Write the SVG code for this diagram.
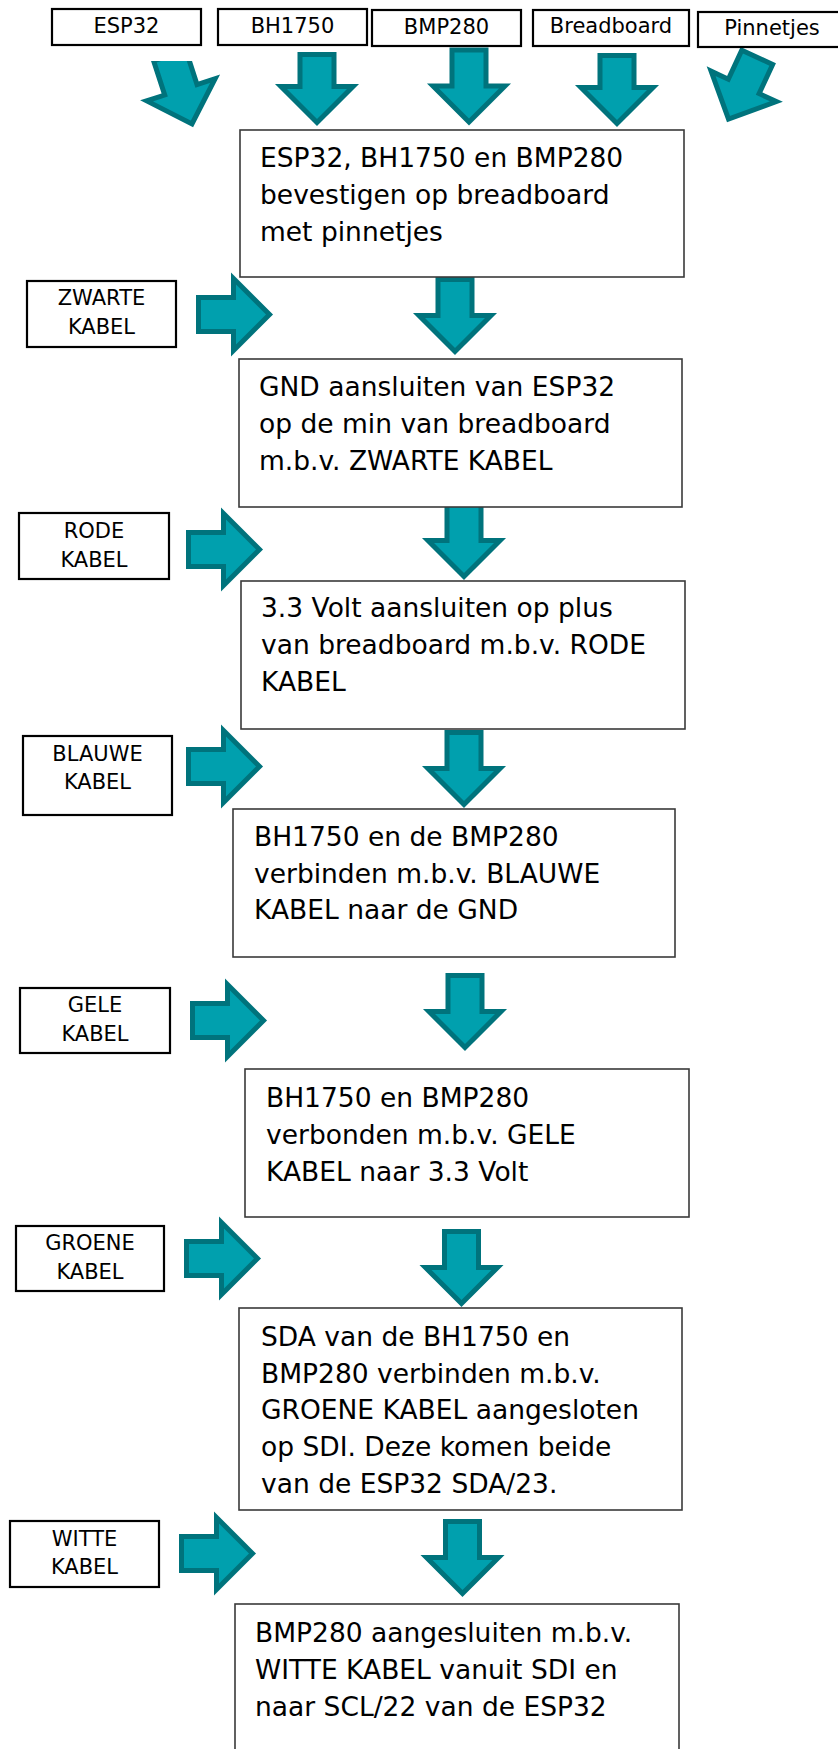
<svg xmlns="http://www.w3.org/2000/svg" xmlns:xlink="http://www.w3.org/1999/xlink" width="838" height="1749" viewBox="0 0 838 1749">
<style>
.lbl rect{fill:#fff;stroke:#000;stroke-width:2.2}
.lbl text{font-family:"DejaVu Sans",Verdana,sans-serif;font-size:21px;fill:#000;text-anchor:middle}
.step rect{fill:#fff;stroke:#3a3a3a;stroke-width:1.6}
.step text{font-family:"DejaVu Sans",Verdana,sans-serif;font-size:26.5px;fill:#000}
.arr{fill:#00A0AE;stroke:#00737C;stroke-width:5;stroke-linejoin:miter;stroke-miterlimit:10}
</style>
<defs>
<path id="darr" d="M-17,-72 H17 V-36 H36 L0,0 L-36,-36 H-17 Z"/>
<path id="darrS" d="M-17,-68 H17 V-36 H36 L0,0 L-36,-36 H-17 Z"/>
<path id="rarr" d="M-71,-17 H-36 V-36 L0,0 L-36,36 V17 H-71 Z"/>
<clipPath id="clipTop" clipPathUnits="userSpaceOnUse"><rect x="0" y="61" width="838" height="200"/></clipPath>
</defs>

<g id="connectors">
<g clip-path="url(#clipTop)"><use xlink:href="#darr" class="arr" transform="translate(192,124) rotate(-18)"/></g>
<use xlink:href="#darrS" class="arr" transform="translate(317,122.5)"/>
<use xlink:href="#darr" class="arr" transform="translate(469,122)"/>
<use xlink:href="#darrS" class="arr" transform="translate(617,123.5)"/>
<use xlink:href="#darrS" class="arr" transform="translate(728.5,119) rotate(25)"/>

<use xlink:href="#darr" class="arr" transform="translate(455,351.5)"/>
<use xlink:href="#darr" class="arr" transform="translate(464,576.5)"/>
<use xlink:href="#darr" class="arr" transform="translate(464,804.5)"/>
<use xlink:href="#darr" class="arr" transform="translate(465,1047.5)"/>
<use xlink:href="#darr" class="arr" transform="translate(461.5,1303.5)"/>
<use xlink:href="#darr" class="arr" transform="translate(462.5,1593.5)"/>

<use xlink:href="#rarr" class="arr" transform="translate(269.5,314.5)"/>
<use xlink:href="#rarr" class="arr" transform="translate(259.5,549.5)"/>
<use xlink:href="#rarr" class="arr" transform="translate(259.5,766.5)"/>
<use xlink:href="#rarr" class="arr" transform="translate(263.5,1020.5)"/>
<use xlink:href="#rarr" class="arr" transform="translate(257.5,1258.5)"/>
<use xlink:href="#rarr" class="arr" transform="translate(252.5,1553.5)"/>
</g>

<g id="top-esp32" class="lbl"><rect x="52" y="9" width="149" height="36"/><text x="126.5" y="33">ESP32</text></g>
<g id="top-bh1750" class="lbl"><rect x="218" y="9" width="149" height="36"/><text x="292.5" y="33">BH1750</text></g>
<g id="top-bmp280" class="lbl"><rect x="372" y="10" width="149" height="36"/><text x="446.5" y="34">BMP280</text></g>
<g id="top-breadboard" class="lbl"><rect x="533" y="10" width="156" height="36"/><text x="611" y="33">Breadboard</text></g>
<g id="top-pinnetjes" class="lbl"><rect x="698" y="12" width="148" height="35"/><text x="772" y="35">Pinnetjes</text></g>

<g id="lbl-zwarte" class="lbl"><rect x="27" y="281" width="149" height="66"/><text x="101.5" y="305">ZWARTE</text><text x="101.5" y="334">KABEL</text></g>
<g id="lbl-rode" class="lbl"><rect x="19" y="513" width="150" height="66"/><text x="94" y="538">RODE</text><text x="94" y="567">KABEL</text></g>
<g id="lbl-blauwe" class="lbl"><rect x="23" y="736" width="149" height="79"/><text x="97.5" y="761">BLAUWE</text><text x="97.5" y="789">KABEL</text></g>
<g id="lbl-gele" class="lbl"><rect x="20" y="988" width="150" height="65"/><text x="95" y="1012">GELE</text><text x="95" y="1041">KABEL</text></g>
<g id="lbl-groene" class="lbl"><rect x="16" y="1226" width="148" height="65"/><text x="90" y="1250">GROENE</text><text x="90" y="1279">KABEL</text></g>
<g id="lbl-witte" class="lbl"><rect x="10" y="1521" width="149" height="66"/><text x="84.5" y="1546">WITTE</text><text x="84.5" y="1574">KABEL</text></g>

<g id="step1" class="step"><rect x="240" y="130" width="444" height="147"/>
<text x="260" y="167">ESP32, BH1750 en BMP280</text><text x="260" y="204">bevestigen op breadboard</text><text x="260" y="241">met pinnetjes</text></g>
<g id="step2" class="step"><rect x="239" y="359" width="443" height="148"/>
<text x="259" y="396">GND aansluiten van ESP32</text><text x="259" y="433">op de min van breadboard</text><text x="259" y="470">m.b.v. ZWARTE KABEL</text></g>
<g id="step3" class="step"><rect x="241" y="581" width="444" height="148"/>
<text x="261" y="617">3.3 Volt aansluiten op plus</text><text x="261" y="654">van breadboard m.b.v. RODE</text><text x="261" y="691">KABEL</text></g>
<g id="step4" class="step"><rect x="233" y="809" width="442" height="148"/>
<text x="254" y="846">BH1750 en de BMP280</text><text x="254" y="883">verbinden m.b.v. BLAUWE</text><text x="254" y="919">KABEL naar de GND</text></g>
<g id="step5" class="step"><rect x="245" y="1069" width="444" height="148"/>
<text x="266" y="1107">BH1750 en BMP280</text><text x="266" y="1144">verbonden m.b.v. GELE</text><text x="266" y="1181">KABEL naar 3.3 Volt</text></g>
<g id="step6" class="step"><rect x="239" y="1308" width="443" height="202"/>
<text x="261" y="1346">SDA van de BH1750 en</text><text x="261" y="1383">BMP280 verbinden m.b.v.</text><text x="261" y="1419">GROENE KABEL aangesloten</text><text x="261" y="1456">op SDI. Deze komen beide</text><text x="261" y="1493">van de ESP32 SDA/23.</text></g>
<g id="step7" class="step"><rect x="235" y="1604" width="444" height="160"/>
<text x="255" y="1642">BMP280 aangesluiten m.b.v.</text><text x="255" y="1679">WITTE KABEL vanuit SDI en</text><text x="255" y="1716">naar SCL/22 van de ESP32</text></g>
</svg>
